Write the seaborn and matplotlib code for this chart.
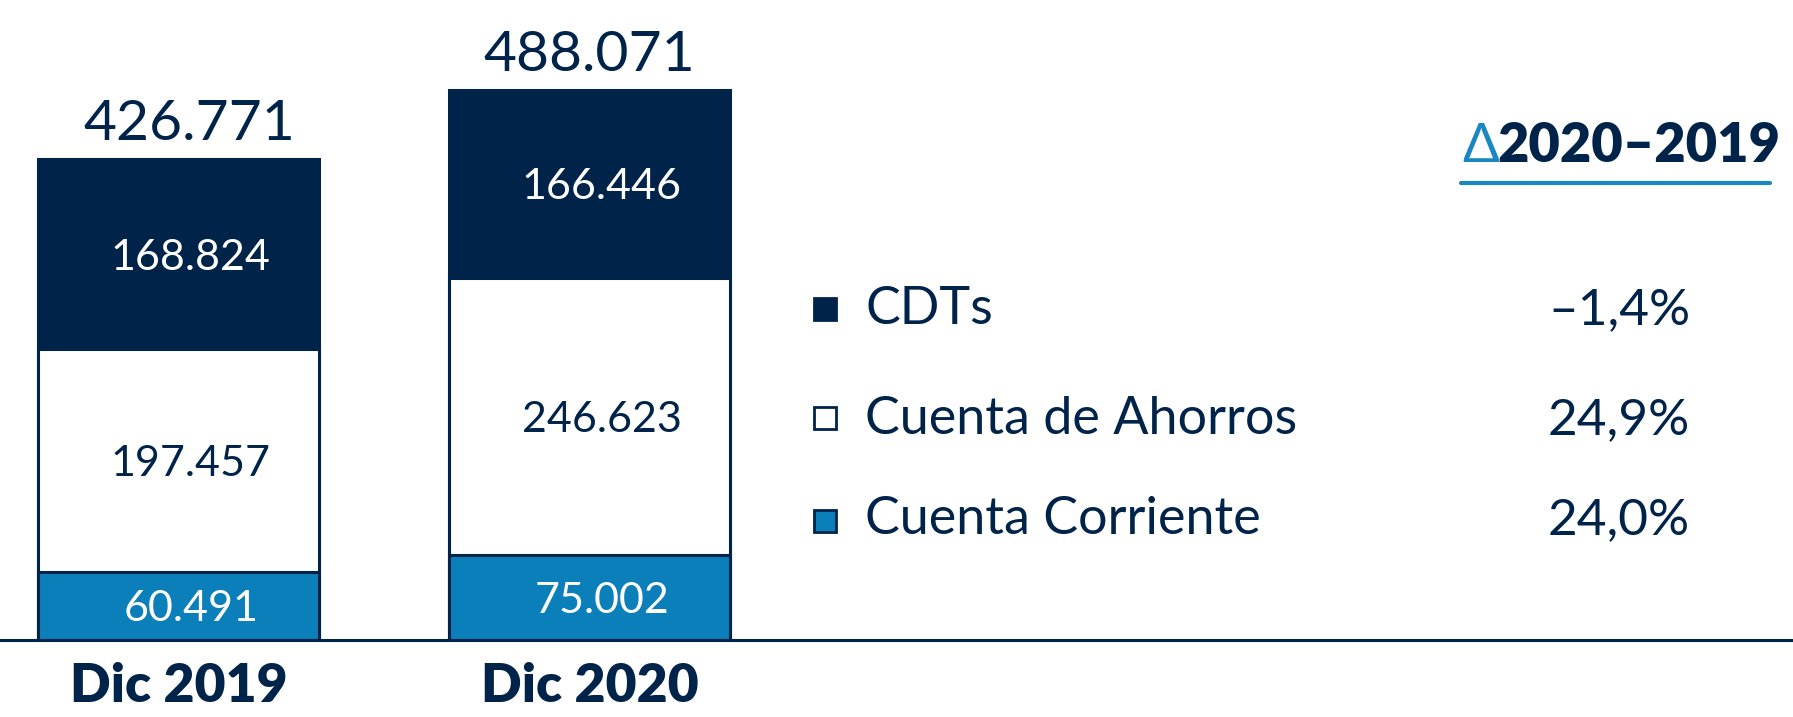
import seaborn as sns
import matplotlib.pyplot as plt
import pandas as pd
from matplotlib.patches import Rectangle
from matplotlib.lines import Line2D

categorias = ["Dic 2019", "Dic 2020"]
cdts = [168824, 166446]
ahorros = [197457, 246623]
corriente = [60491, 75002]
totales = [426771, 488071]

series = ["CDTs", "Cuenta de Ahorros", "Cuenta Corriente"]
variacion = ["–1,4%", "24,9%", "24,0%"]

NAVY = "#00234A"
BLUE = "#0A7FBA"
DBLUE = "#1A86C2"

df = pd.DataFrame({"Periodo": categorias, "CDTs": cdts,
                   "Ahorros": ahorros, "Corriente": corriente})
df["c1"] = df["Corriente"]
df["c2"] = df["Corriente"] + df["Ahorros"]
df["c3"] = df["c2"] + df["CDTs"]

sns.set_style("white")
plt.rcParams["font.family"] = ["Lato", "DejaVu Sans"]

W, H = 1793, 717
fig = plt.figure(figsize=(W / 100, H / 100), dpi=100)
ax = fig.add_axes([0, 77 / H, 1, 640 / H])

bw = 281 / 411
for col, color in [("c3", NAVY), ("c2", "white"), ("c1", BLUE)]:
    sns.barplot(data=df, x="Periodo", y=col, color=color, saturation=1,
                edgecolor=NAVY, linewidth=2.2, width=bw, errorbar=None, ax=ax)

ypx = 887.4  # valor por pixel
ax.set_ylim(0, 640 * ypx)
ax.set_xlim(-178.5 / 411, (W - 178.5) / 411)

def fmt(v):
    return f"{v:,}".replace(",", ".")

for i in range(len(categorias)):
    segs = [(0, corriente[i], "white"),
            (corriente[i], corriente[i] + ahorros[i], NAVY),
            (corriente[i] + ahorros[i], corriente[i] + ahorros[i] + cdts[i], "white")]
    vals = [corriente[i], ahorros[i], cdts[i]]
    for (lo, hi, c), v in zip(segs, vals):
        ax.text(i + 0.03, (lo + hi) / 2 - 15.5 * ypx, fmt(v), ha="center",
                va="baseline", fontsize=31, color=c)
    ax.text(i + (0.025 if i == 0 else 0), totales[i] + 19 * ypx, fmt(totales[i]),
            ha="center", va="baseline", fontsize=41, color=NAVY)

sns.despine(ax=ax, left=True, top=True, right=True)
ax.spines["bottom"].set_color(NAVY)
ax.spines["bottom"].set_linewidth(2.2)
ax.set_yticks([])
ax.set_xlabel("")
ax.set_ylabel("")
ax.tick_params(axis="x", length=0, pad=16)
ax.set_xticks(range(len(categorias)))
ax.set_xticklabels(categorias, fontsize=38.5, fontweight="heavy", color=NAVY)

def fx(x):
    return x / W

def fy(y):
    return 1 - y / H

# leyenda con variaciones
colores = [NAVY, "white", BLUE]
mark_y = [309, 418, 521]
base_y = [324, 434, 534]
for name, c, my, by, pct in zip(series, colores, mark_y, base_y, variacion):
    fig.add_artist(Rectangle((fx(814), fy(my + 11)), 22 / W, 22 / H,
                             transform=fig.transFigure, facecolor=c,
                             edgecolor=NAVY, linewidth=2))
    fig.text(fx(865), fy(by), name, fontsize=37.5, color=NAVY, va="baseline")
    fig.text(fx(1619), fy(by), pct, fontsize=37, color=NAVY,
             ha="center", va="baseline")

fig.text(fx(1462), fy(162), "Δ", fontsize=39, color=DBLUE, va="baseline",
         family=["Lato", "DejaVu Sans"])
fig.text(fx(1497), fy(162), "2020–2019", fontsize=39, color=NAVY,
         fontweight="heavy", va="baseline")
fig.add_artist(Line2D([fx(1461), fx(1770)], [fy(183), fy(183)],
                      transform=fig.transFigure, color=DBLUE, linewidth=3))

fig.savefig("out.png", dpi=100)
